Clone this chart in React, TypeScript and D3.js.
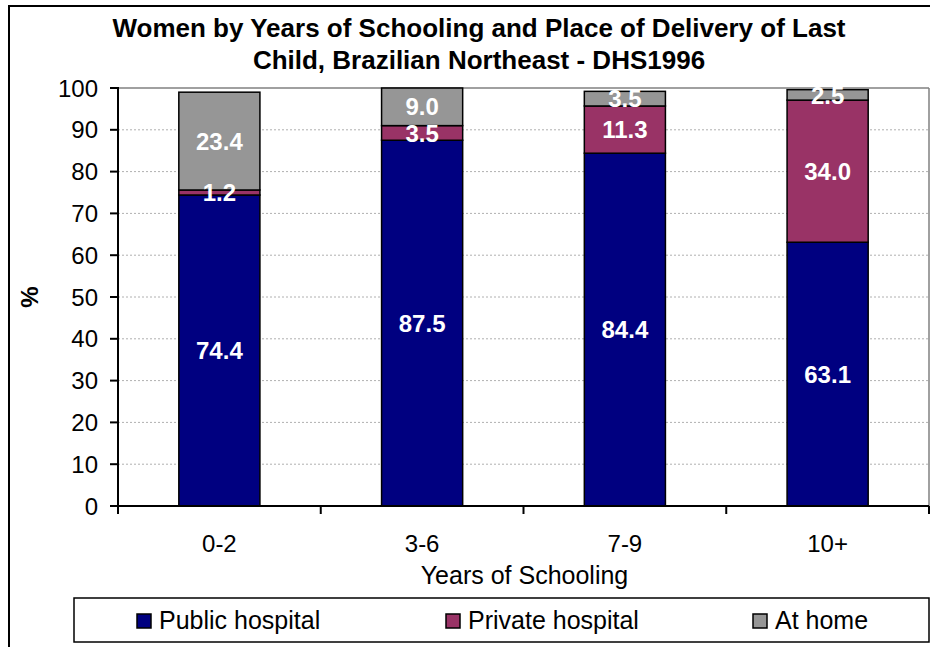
import React from "react";
import * as d3 from "d3";

const categories = ["0-2", "3-6", "7-9", "10+"];
const publicHospital = [74.4, 87.5, 84.4, 63.1];
const privateHospital = [1.2, 3.5, 11.3, 34.0];
const atHome = [23.4, 9.0, 3.5, 2.5];
const seriesKeys = ["public", "private", "home"];
const seriesNames = ["Public hospital", "Private hospital", "At home"];
const seriesColors = ["#000080", "#993366", "#969696"];
const yTicks = [0, 10, 20, 30, 40, 50, 60, 70, 80, 90, 100];
const titleLines = [
  "Women by Years of Schooling and Place of Delivery of Last",
  "Child, Brazilian Northeast - DHS1996",
];

const W = 930;
const H = 647;
const plot = { left: 118, right: 929, top: 88, bottom: 506 };
const FONT = "'Liberation Sans', Arial, Helvetica, sans-serif";

export default function App() {
  const rows = categories.map((c, i) => ({
    cat: c,
    public: publicHospital[i],
    private: privateHospital[i],
    home: atHome[i],
  }));
  const stack = d3.stack<any>().keys(seriesKeys);
  const layers = stack(rows);

  const x = d3
    .scaleBand<string>()
    .domain(categories)
    .range([plot.left, plot.right])
    .padding(0);
  const y = d3.scaleLinear().domain([0, 100]).range([plot.bottom, plot.top]);
  const barW = x.step() / 2.5;

  const legendX = [137, 446, 753];

  return (
    <svg
      width={W}
      height={H}
      style={{ position: "absolute", left: 0, top: 0, background: "#fff" }}
      fontFamily={FONT}
    >
      <rect x={0} y={0} width={W} height={H} fill="#fff" />
      {/* outer chart frame */}
      <rect x={9} y={6} width={W + 40} height={H + 40} fill="none" stroke="#000" strokeWidth={2} />

      {/* title */}
      {titleLines.map((t, i) => (
        <text
          key={i}
          x={479}
          y={37 + i * 32}
          textAnchor="middle"
          fontSize={26}
          fontWeight="bold"
          fill="#000"
        >
          {t}
        </text>
      ))}

      {/* gridlines */}
      {yTicks
        .filter((t) => t > 0 && t < 100)
        .map((t) => (
          <line
            key={t}
            x1={plot.left}
            x2={plot.right}
            y1={y(t)}
            y2={y(t)}
            stroke="#b0b0b0"
            strokeWidth={1}
            strokeDasharray="2,2"
          />
        ))}
      {/* plot area border top & right */}
      <line x1={plot.left} x2={plot.right} y1={y(100)} y2={y(100)} stroke="#808080" strokeWidth={1.5} />
      <line x1={plot.right} x2={plot.right} y1={y(100)} y2={plot.bottom} stroke="#808080" strokeWidth={1.5} />

      {/* bars */}
      {layers.map((layer, li) =>
        layer.map((d, ci) => {
          const cx = (x(categories[ci]) as number) + x.bandwidth() / 2;
          return (
            <rect
              key={`${li}-${ci}`}
              x={cx - barW / 2}
              y={y(d[1])}
              width={barW}
              height={y(d[0]) - y(d[1])}
              fill={seriesColors[li]}
              stroke="#000"
              strokeWidth={1.5}
            />
          );
        })
      )}

      {/* data labels */}
      {layers.map((layer, li) =>
        layer.map((d, ci) => {
          const cx = (x(categories[ci]) as number) + x.bandwidth() / 2;
          const v = d[1] - d[0];
          return (
            <text
              key={`l-${li}-${ci}`}
              x={cx}
              y={y((d[0] + d[1]) / 2)}
              dy="0.36em"
              textAnchor="middle"
              fontSize={24}
              fontWeight="bold"
              fill="#fff"
            >
              {v.toFixed(1)}
            </text>
          );
        })
      )}

      {/* y axis */}
      <line x1={plot.left} x2={plot.left} y1={plot.top - 1} y2={plot.bottom + 8} stroke="#000" strokeWidth={2} />
      {yTicks.map((t) => (
        <g key={t}>
          <line x1={plot.left - 8} x2={plot.left} y1={y(t)} y2={y(t)} stroke="#000" strokeWidth={2} />
          <text x={98} y={y(t)} dy="0.36em" textAnchor="end" fontSize={24} fill="#000">
            {t}
          </text>
        </g>
      ))}
      <text
        transform={`translate(38,${(plot.top + plot.bottom) / 2}) rotate(-90)`}
        textAnchor="middle"
        fontSize={24}
        fontWeight="bold"
        fill="#000"
      >
        %
      </text>

      {/* x axis */}
      <line x1={plot.left - 8} x2={plot.right} y1={plot.bottom} y2={plot.bottom} stroke="#000" strokeWidth={2} />
      {categories.map((c, i) => (
        <line
          key={`t${i}`}
          x1={(x(c) as number) + x.step()}
          x2={(x(c) as number) + x.step()}
          y1={plot.bottom}
          y2={plot.bottom + 8}
          stroke="#000"
          strokeWidth={2}
        />
      ))}
      {categories.map((c) => (
        <text
          key={c}
          x={(x(c) as number) + x.bandwidth() / 2}
          y={552}
          textAnchor="middle"
          fontSize={24}
          fill="#000"
        >
          {c}
        </text>
      ))}
      <text x={(plot.left + plot.right) / 2 + 1} y={584} textAnchor="middle" fontSize={25} fill="#000">
        Years of Schooling
      </text>

      {/* legend */}
      <rect x={74} y={598} width={855} height={44} fill="#fff" stroke="#000" strokeWidth={1.5} />
      {seriesNames.map((n, i) => (
        <g key={n}>
          <rect x={legendX[i]} y={614} width={14} height={14} fill={seriesColors[i]} stroke="#000" strokeWidth={1.5} />
          <text x={legendX[i] + 22} y={629} fontSize={25} fill="#000">
            {n}
          </text>
        </g>
      ))}
    </svg>
  );
}
